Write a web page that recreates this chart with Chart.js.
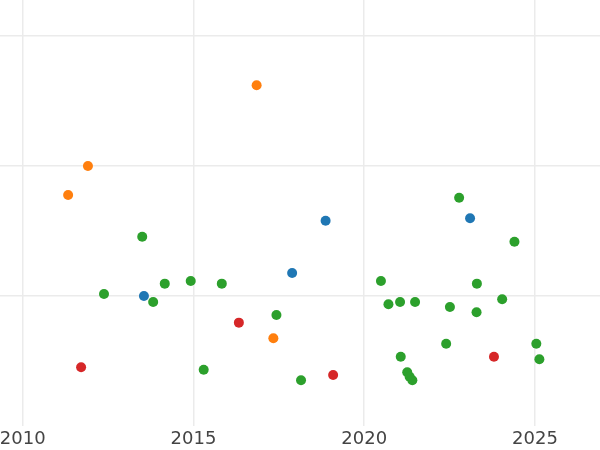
<!DOCTYPE html>
<html>
<head>
<meta charset="utf-8">
<script src="https://cdn.jsdelivr.net/npm/chart.js@4/dist/chart.umd.min.js"></script>
<style>
  html, body { margin: 0; padding: 0; background: #fff; }
  #wrap { width: 600px; height: 450px; position: relative; }
</style>
</head>
<body>
<div id="wrap"><canvas id="chart"></canvas></div>
<script>
// x tick labels (years)
const yearTicks = [2010, 2015, 2020, 2025]
// y grid levels (no labels shown)
const levelTicks = [1, 2, 3]

// series: [year, value]
const blueSeries = [
  [2013.55, 1.0], [2017.89, 1.177], [2018.87, 1.579], [2023.10, 1.598]
]
const orangeSeries = [
  [2011.33, 1.777], [2011.91, 2.0], [2016.85, 2.621], [2017.34, 0.675]
]
const greenSeries = [
  [2012.38, 1.015], [2013.50, 1.456], [2013.82, 0.954], [2014.16, 1.095],
  [2014.92, 1.115], [2015.30, 0.433], [2015.83, 1.095], [2017.43, 0.854],
  [2018.15, 0.352], [2020.49, 1.115], [2020.71, 0.936], [2021.05, 0.954],
  [2021.07, 0.533], [2021.26, 0.413], [2021.33, 0.379], [2021.41, 0.352],
  [2021.49, 0.954], [2022.40, 0.633], [2022.51, 0.915], [2022.78, 1.756],
  [2023.29, 0.875], [2023.30, 1.095], [2024.04, 0.975], [2024.40, 1.418],
  [2025.04, 0.633], [2025.13, 0.513]
]
const redSeries = [
  [2011.71, 0.452], [2016.33, 0.795], [2019.09, 0.392], [2023.80, 0.533]
]

const toPoints = arr => arr.map(p => ({ x: p[0], y: p[1] }))

function makeSet(label, arr, color) {
  return {
    label: label,
    data: toPoints(arr),
    backgroundColor: color,
    borderColor: color,
    borderWidth: 0,
    pointRadius: 5,
    pointHoverRadius: 5,
    clip: false
  }
}

new Chart(document.getElementById('chart').getContext('2d'), {
  type: 'scatter',
  data: {
    datasets: [
      makeSet('blue', blueSeries, '#1f77b4'),
      makeSet('orange', orangeSeries, '#ff7f0e'),
      makeSet('green', greenSeries, '#2ca02c'),
      makeSet('red', redSeries, '#d62728')
    ]
  },
  options: {
    responsive: true,
    maintainAspectRatio: false,
    animation: false,
    layout: { padding: 0, autoPadding: false },
    plugins: {
      legend: { display: false },
      tooltip: { enabled: false }
    },
    scales: {
      x: {
        type: 'linear',
        min: 2009.335,
        max: 2026.905,
        afterBuildTicks: axis => {
          axis.ticks = yearTicks.map(v => ({ value: v }))
        },
        afterFit: axis => {
          axis.height = 24
          axis.paddingLeft = 0
          axis.paddingRight = 0
        },
        border: { display: false },
        grid: {
          color: '#ebebeb',
          lineWidth: 1.5,
          drawTicks: false
        },
        ticks: {
          padding: 3,
          color: '#444',
          font: { family: 'DejaVu Sans', size: 18 },
          maxRotation: 0,
          callback: v => String(v)
        }
      },
      y: {
        type: 'linear',
        min: 0,
        max: 3.277,
        afterBuildTicks: axis => {
          axis.ticks = levelTicks.map(v => ({ value: v }))
        },
        afterFit: axis => {
          axis.width = 0
          axis.paddingTop = 0
          axis.paddingBottom = 0
        },
        border: { display: false },
        grid: {
          color: '#ebebeb',
          lineWidth: 1.5,
          drawTicks: false
        },
        ticks: { display: false }
      }
    }
  }
})
</script>
</body>
</html>
